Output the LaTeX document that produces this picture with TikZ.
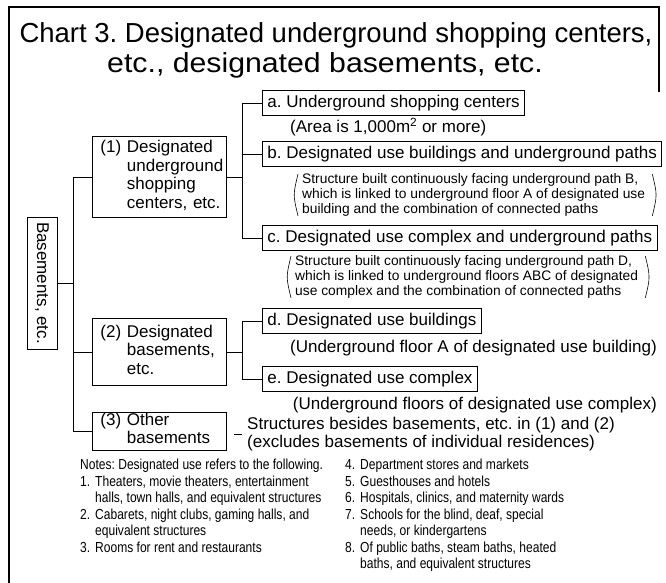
\documentclass[tikz,border=0pt]{standalone}
\usepackage{fontspec}
\setmainfont{Liberation Sans}
\newfontfamily\narrowfont[FakeStretch=0.83]{Liberation Sans}
\newfontfamily\widefont[FakeStretch=1.1]{Liberation Sans}
\begin{document}
\frenchspacing
\begin{tikzpicture}[x=1pt,y=-1pt,
  conn/.style={line width=0.75pt},
  box/.style={draw,line width=0.9pt,inner xsep=5pt,inner ysep=0pt,minimum height=25pt,anchor=west,font=\fontsize{17}{19}\selectfont},
  catbox/.style={draw,line width=0.9pt,inner xsep=8pt,anchor=west,align=left,minimum width=134pt,text width=118pt,font=\fontsize{17}{18.5}\selectfont},
  plain/.style={inner sep=0pt,anchor=west,font=\fontsize{17}{19}\selectfont},
  notetext/.style={inner sep=0pt,anchor=west,align=left,font=\fontsize{13.8}{15.3}\selectfont},
  paren/.style={line width=0.6pt},
  foot/.style={inner sep=0pt,anchor=base west,font=\narrowfont\fontsize{14.5}{16.5}\selectfont},
  titletext/.style={inner sep=0pt,anchor=base,font=\fontsize{27.5}{30}\selectfont}]
\useasboundingbox (0,0) rectangle (666,583);
% frame
\draw[line width=1.3pt] (9,583) -- (9,7) -- (659,7) -- (659,92);
% title
\node[titletext] (t1) at (336,43) {Chart 3. Designated underground shopping centers,};
\node[titletext,font=\widefont\fontsize{27.5}{30}\selectfont] (t2) at (325,73) {etc., designated basements, etc.};
% root
\node[draw,line width=0.9pt,rotate=-90,minimum width=132pt,minimum height=30pt,inner sep=0pt,font=\fontsize{17}{19}\selectfont] (bas) at (42,283) {Basements, etc.};
% categories
\node[catbox,inner ysep=3.5pt] (c1) at (92,177) {\begin{tabular}{@{}l@{ }l@{}}(1)&Designated\\&underground\\&shopping\\&centers, etc.\end{tabular}};
\node[catbox,inner ysep=5.75pt] (c2) at (92,352) {\begin{tabular}{@{}l@{ }l@{}}(2)&Designated\\&basements,\\&etc.\end{tabular}};
\node[catbox,inner ysep=0.5pt] (c3) at (92,431) {\begin{tabular}{@{}l@{ }l@{}}(3)&Other\\&basements\end{tabular}};
% trunk 1
\coordinate (j1) at (73,283);
\draw[conn] (bas.north) -- (j1);
\draw[conn] (c1.west -| j1) -- (c3.west -| j1);
\draw[conn] (c1.west -| j1) -- (c1.west);
\draw[conn] (c2.west -| j1) -- (c2.west);
\draw[conn] (c3.west -| j1) -- (c3.west);
% level 2 boxes
\node[box] (a) at (262,103) {a. Underground shopping centers};
\node[plain] (an) at (290,127) {(Area is 1,000m\textsuperscript{2} or more)};
\node[box] (b) at (262,154) {b. Designated use buildings and underground paths};
\node[notetext] (bn) at (302,195) {Structure built continuously facing underground path B,\\which is linked to underground floor A of designated use\\building and the combination of connected paths};
\node[box] (c) at (262,238) {c. Designated use complex and underground paths};
\node[notetext] (cn) at (295,277) {Structure built continuously facing underground path D,\\which is linked to underground floors ABC of designated\\use complex and the combination of connected paths};
\node[box] (d) at (262,321) {d. Designated use buildings};
\node[plain,anchor=east] (dn) at (657,348) {(Underground floor A of designated use building)};
\node[box] (e) at (262,379) {e. Designated use complex};
\node[plain,anchor=east] (en) at (657,405) {(Underground floors of designated use complex)};
% brackets
\draw[paren] ([xshift=-4pt,yshift=-1pt]bn.north west) .. controls ([xshift=-9pt]bn.west) .. ([xshift=-4pt,yshift=1pt]bn.south west);
\draw[paren] ([xshift=7pt,yshift=-1pt]bn.north east) .. controls ([xshift=12pt]bn.east) .. ([xshift=7pt,yshift=1pt]bn.south east);
\draw[paren] ([xshift=-4pt,yshift=-1pt]cn.north west) .. controls ([xshift=-9pt]cn.west) .. ([xshift=-4pt,yshift=1pt]cn.south west);
\draw[paren] ([xshift=7pt,yshift=-1pt]cn.north east) .. controls ([xshift=12pt]cn.east) .. ([xshift=7pt,yshift=1pt]cn.south east);
% trunk 2
\coordinate (j2) at (242,177);
\draw[conn] (c1.east) -- (j2);
\draw[conn] (a.west -| j2) -- (c.west -| j2);
\draw[conn] (a.west -| j2) -- (a.west);
\draw[conn] (b.west -| j2) -- (b.west);
\draw[conn] (c.west -| j2) -- (c.west);
% trunk 3
\coordinate (j3) at (242,352);
\draw[conn] (c2.east) -- (j3);
\draw[conn] (d.west -| j3) -- (e.west -| j3);
\draw[conn] (d.west -| j3) -- (d.west);
\draw[conn] (e.west -| j3) -- (e.west);
% other basements
\node[plain,align=left,font=\fontsize{17}{18.5}\selectfont] (on) at (247,434) {Structures besides basements, etc. in (1) and (2)\\(excludes basements of individual residences)};
\draw[conn] ([xshift=7pt]c3.east |- on.west) -- ([xshift=-5pt]on.west);
% footnotes
\node[foot] (n1) at (80,469.5) {\begin{tabular}[t]{@{}l@{\hspace{5pt}}l@{}}
\multicolumn{2}{@{}l@{}}{Notes: Designated use refers to the following.}\\
1.&Theaters, movie theaters, entertainment\\
&halls, town halls, and equivalent structures\\
2.&Cabarets, night clubs, gaming halls, and\\
&equivalent structures\\
3.&Rooms for rent and restaurants
\end{tabular}};
\node[foot] (n2) at (345,469.5) {\begin{tabular}[t]{@{}l@{\hspace{5pt}}l@{}}
4.&Department stores and markets\\
5.&Guesthouses and hotels\\
6.&Hospitals, clinics, and maternity wards\\
7.&Schools for the blind, deaf, special\\
&needs, or kindergartens\\
8.&Of public baths, steam baths, heated\\
&baths, and equivalent structures
\end{tabular}};
\end{tikzpicture}
\end{document}
